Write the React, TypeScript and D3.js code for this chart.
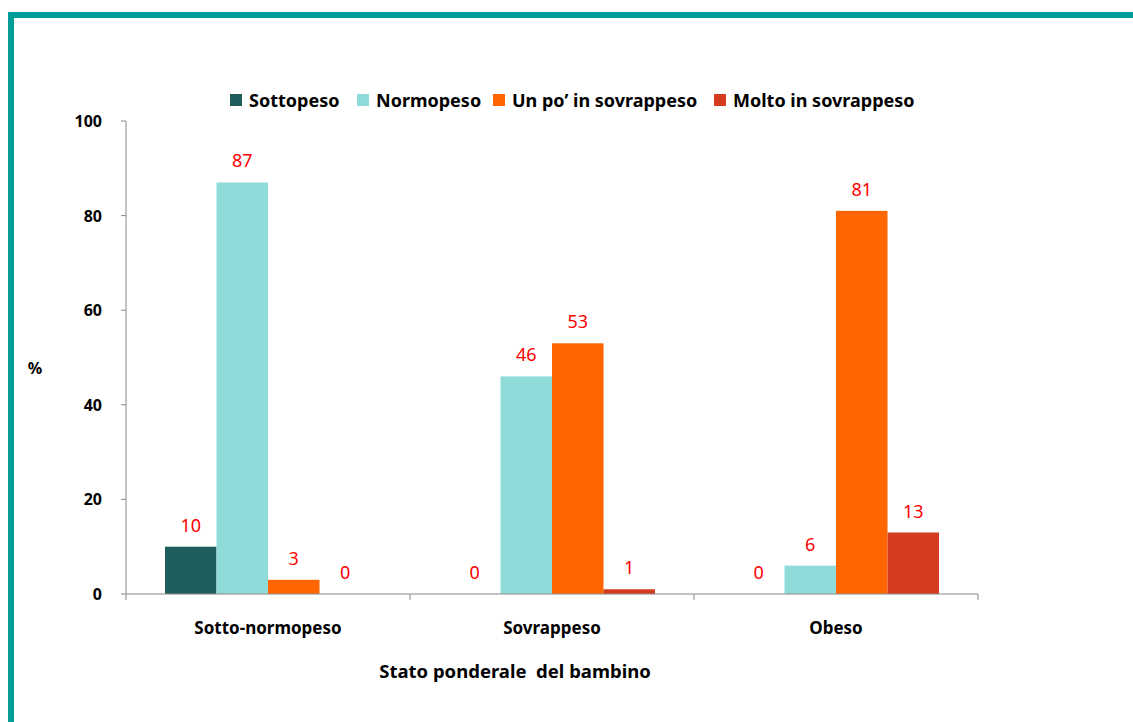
import * as d3 from 'd3'

const categories = ['Sotto-normopeso', 'Sovrappeso', 'Obeso']
const seriesNames = ['Sottopeso', 'Normopeso', 'Un po\u2019 in sovrappeso', 'Molto in sovrappeso']
const seriesColors = ['#1F5C5C', '#8FDBD9', '#FF6600', '#D33C1F']
const sottopeso = [10, 0, 0]
const normopeso = [87, 46, 6]
const unPo = [3, 53, 81]
const molto = [0, 1, 13]
const yTicks = [0, 20, 40, 60, 80, 100]

const W = 1133
const H = 722
const font = "'Noto Sans', sans-serif"

export default function App() {
  const values = [sottopeso, normopeso, unPo, molto]
  const x = d3.scaleBand<string>().domain(categories).range([126, 978]).paddingInner(0).paddingOuter(0)
  const inner = d3
    .scaleBand<number>()
    .domain(d3.range(seriesNames.length))
    .range([39, x.bandwidth() - 39])
  const y = d3.scaleLinear().domain([0, 100]).range([594, 121])

  const legendX = [230, 357, 493, 714]

  return (
    <svg
      width={W}
      height={H}
      style={{ position: 'absolute', left: 0, top: 0, background: '#fff' }}
      fontFamily={font}
    >
      <rect x={8} y={12} width={W - 8} height={6} fill="#009C97" />
      <rect x={8} y={12} width={6} height={H - 12} fill="#009C97" />

      {/* legend */}
      {seriesNames.map((s, i) => (
        <g key={s} transform={`translate(${legendX[i]},94)`}>
          <rect width={12} height={12} fill={seriesColors[i]} />
          <text x={19} y={12.5} fontSize={18} fontWeight="bold" fill="#000">
            {s}
          </text>
        </g>
      ))}

      {/* bars */}
      {categories.map((c, ci) => (
        <g key={c} transform={`translate(${x(c)},0)`}>
          {values.map((vals, si) => {
            const v = vals[ci]
            const bx = inner(si)!
            return (
              <g key={si}>
                {v > 0 && (
                  <rect
                    x={bx}
                    y={y(v)}
                    width={inner.bandwidth()}
                    height={y(0) - y(v)}
                    fill={seriesColors[si]}
                  />
                )}
                <text
                  x={bx + inner.bandwidth() / 2}
                  y={y(v) - 15}
                  textAnchor="middle"
                  fontSize={18}
                  fill="#FF0000"
                >
                  {v}
                </text>
              </g>
            )
          })}
        </g>
      ))}

      {/* y axis */}
      <line x1={126} x2={126} y1={y(100)} y2={y(0)} stroke="#888" />
      {yTicks.map((t) => (
        <g key={t}>
          <line x1={121} x2={126} y1={y(t)} y2={y(t)} stroke="#888" />
          <text x={102} y={y(t) + 6} textAnchor="end" fontSize={16} fontWeight="bold">
            {t}
          </text>
        </g>
      ))}
      <text x={35} y={374} textAnchor="middle" fontSize={16} fontWeight="bold">
        %
      </text>

      {/* x axis */}
      <line x1={126} x2={978} y1={y(0)} y2={y(0)} stroke="#888" />
      {[...categories.map((c) => x(c)!), 978].map((t, i) => (
        <line key={i} x1={t} x2={t} y1={y(0)} y2={y(0) + 6} stroke="#888" />
      ))}
      {categories.map((c) => (
        <text
          key={c}
          x={x(c)! + x.bandwidth() / 2}
          y={634}
          textAnchor="middle"
          fontSize={17}
          fontWeight="bold"
        >
          {c}
        </text>
      ))}
      <text x={515} y={678} textAnchor="middle" fontSize={18.5} fontWeight="bold" style={{ whiteSpace: 'pre' }}>
        {'Stato ponderale  del bambino'}
      </text>
    </svg>
  )
}
